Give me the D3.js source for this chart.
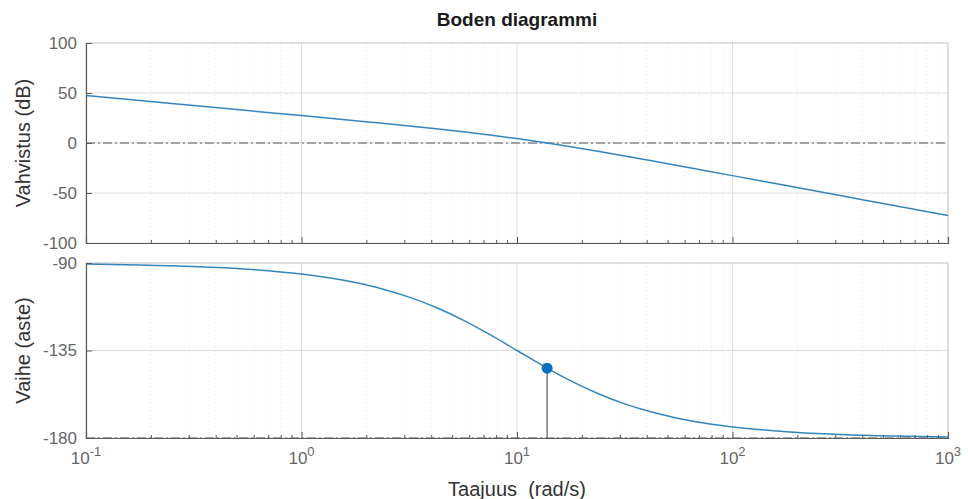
<!DOCTYPE html>
<html>
<head>
<meta charset="utf-8">
<script src="https://cdn.jsdelivr.net/npm/d3@7"></script>
<style>
  html, body { margin: 0; padding: 0; background: #fff; }
  svg { display: block; font-family: "Liberation Sans", Arial, Helvetica, sans-serif; }
</style>
</head>
<body>
<svg id="chart" width="968" height="499"></svg>
<script>
// Frequency response samples (rad/s), gain (dB) and phase (deg)
const freq = [0.1, 0.1778, 0.3162, 0.5623, 1, 1.778, 2.371, 3.162, 4.217, 5.623, 7.499, 10,
              13.34, 17.78, 23.71, 31.62, 42.17, 56.23, 74.99, 100, 177.8, 316.2, 562.3, 1000];
const gainDb = [47.42, 42.42, 37.41, 32.41, 27.38, 22.28, 19.68, 17.01, 14.21, 11.23, 7.98, 4.41,
                0.48, -3.77, -8.29, -13.0, -17.82, -22.71, -27.66, -32.62, -42.59, -52.58, -62.58, -72.58];
const phaseDeg = [-90.57, -91.02, -91.81, -93.22, -95.71, -100.08, -103.34, -107.55, -112.87, -119.35, -126.87, -135,
                  -143.13, -150.65, -157.13, -162.45, -166.66, -169.92, -172.41, -174.29, -176.78, -178.19, -178.98, -179.43];

// Gain crossover point (phase margin marker)
const crossover = { freq: 13.8, phase: -144.07 };

const gainTicks = [-100, -50, 0, 50, 100];
const phaseTicks = [-180, -135, -90];
const decadeTicks = [0.1, 1, 10, 100, 1000];
const decadeLabels = ["-1", "0", "1", "2", "3"];

const titleText = "Boden diagrammi";
const xLabel = "Taajuus  (rad/s)";
const gainLabel = "Vahvistus (dB)";
const phaseLabel = "Vaihe (aste)";

const svg = d3.select("#chart");
const left = 86, right = 948;
const topPanel = { y0: 43, y1: 243 };
const botPanel = { y0: 263, y1: 438 };

const x = d3.scaleLog().domain([0.1, 1000]).range([left, right]);
const yGain = d3.scaleLinear().domain([-100, 100]).range([topPanel.y1, topPanel.y0]);
const yPhase = d3.scaleLinear().domain([-180, -90]).range([botPanel.y1, botPanel.y0]);

const lineColor = "#3585bd";
const axisColor = "#5a5a5a";
const tickTextColor = "#666";
const tickFont = 17;

// minor frequencies 2..9 per decade
const minorFreqs = [];
for (let d = -1; d < 3; d++) {
  for (let m = 2; m <= 9; m++) minorFreqs.push(m * Math.pow(10, d));
}

function drawPanel(panel, yScale, yTicks) {
  const g = svg.append("g");
  // minor vertical grid (dotted)
  g.selectAll(".minor").data(minorFreqs).join("line")
    .attr("x1", d => x(d)).attr("x2", d => x(d))
    .attr("y1", panel.y0).attr("y2", panel.y1)
    .attr("stroke", "#e4e4e4").attr("stroke-width", 1)
    .attr("stroke-dasharray", "1,3");
  // major vertical grid
  g.selectAll(".major").data(decadeTicks).join("line")
    .attr("x1", d => x(d)).attr("x2", d => x(d))
    .attr("y1", panel.y0).attr("y2", panel.y1)
    .attr("stroke", "#dcdcdc").attr("stroke-width", 1);
  // horizontal grid
  g.selectAll(".hgrid").data(yTicks).join("line")
    .attr("x1", left).attr("x2", right)
    .attr("y1", d => yScale(d)).attr("y2", d => yScale(d))
    .attr("stroke", "#dcdcdc").attr("stroke-width", 1);
  // light box (top/right)
  g.append("path")
    .attr("d", `M${left},${panel.y0}H${right}V${panel.y1}`)
    .attr("fill", "none").attr("stroke", "#d0d0d0").attr("stroke-width", 1);
  return g;
}

function drawAxes(panel, yScale, yTicks, showXLabels) {
  const g = svg.append("g");
  // bottom x axis with inward ticks
  const xAxis = d3.axisBottom(x).tickValues(decadeTicks).tickSize(-6).tickFormat("");
  const gx = g.append("g").attr("transform", `translate(0,${panel.y1})`).call(xAxis);
  gx.selectAll("line").attr("stroke", axisColor);
  gx.select(".domain").attr("stroke", axisColor).attr("stroke-width", 1.2);
  const xMinor = d3.axisBottom(x).tickValues(minorFreqs).tickSize(-3).tickFormat("");
  const gxm = g.append("g").attr("transform", `translate(0,${panel.y1})`).call(xMinor);
  gxm.select(".domain").remove();
  gxm.selectAll("line").attr("stroke", axisColor);

  // left y axis with inward ticks, plain hyphen minus signs
  const yAxis = d3.axisLeft(yScale).tickValues(yTicks).tickSize(-6).tickPadding(9)
    .tickFormat(d => String(d));
  const gy = g.append("g").attr("transform", `translate(${left},0)`).call(yAxis);
  gy.select(".domain").attr("stroke", axisColor).attr("stroke-width", 1.2);
  gy.selectAll("line").attr("stroke", axisColor);
  gy.selectAll("text").attr("fill", tickTextColor).attr("font-size", tickFont)
    .attr("font-family", "Liberation Sans, Arial, sans-serif");

  if (showXLabels) {
    const lab = g.selectAll(".xl").data(decadeTicks).join("text")
      .attr("x", d => x(d)).attr("y", panel.y1 + 26)
      .attr("text-anchor", "middle").attr("fill", tickTextColor).attr("font-size", tickFont);
    lab.append("tspan").text("10");
    lab.append("tspan").attr("dy", -8).attr("font-size", 13)
      .text((d, i) => decadeLabels[i]);
  }
}

function refLine(yv) {
  svg.append("line")
    .attr("x1", left).attr("x2", right).attr("y1", yv).attr("y2", yv)
    .attr("stroke", "#8a8a8a").attr("stroke-width", 1.3)
    .attr("stroke-dasharray", "9,3,2,3");
}

// --- Gain panel ---
drawPanel(topPanel, yGain, gainTicks);
refLine(yGain(0));
svg.append("path")
  .datum(d3.zip(freq, gainDb))
  .attr("fill", "none").attr("stroke", lineColor).attr("stroke-width", 1.5)
  .attr("d", d3.line().x(d => x(d[0])).y(d => yGain(d[1])).curve(d3.curveMonotoneX));
drawAxes(topPanel, yGain, gainTicks, false);

// --- Phase panel ---
drawPanel(botPanel, yPhase, phaseTicks);
refLine(yPhase(-180));
svg.append("path")
  .datum(d3.zip(freq, phaseDeg))
  .attr("fill", "none").attr("stroke", lineColor).attr("stroke-width", 1.5)
  .attr("d", d3.line().x(d => x(d[0])).y(d => yPhase(d[1])).curve(d3.curveMonotoneX));
drawAxes(botPanel, yPhase, phaseTicks, true);

// phase margin stem and marker
svg.append("line")
  .attr("x1", x(crossover.freq)).attr("x2", x(crossover.freq))
  .attr("y1", yPhase(crossover.phase)).attr("y2", yPhase(-180))
  .attr("stroke", "#7a7a7a").attr("stroke-width", 1.5);
svg.append("circle")
  .attr("cx", x(crossover.freq)).attr("cy", yPhase(crossover.phase)).attr("r", 5.5)
  .attr("fill", "#0a6fbf");

// --- Titles and labels ---
svg.append("text").attr("x", (left + right) / 2).attr("y", 26)
  .attr("text-anchor", "middle").attr("font-weight", "bold").attr("font-size", 19)
  .attr("fill", "#1a1a1a").text(titleText);
svg.append("text").attr("x", (left + right) / 2).attr("y", 496)
  .attr("text-anchor", "middle").attr("font-size", 20).attr("fill", "#333")
  .attr("xml:space", "preserve").style("white-space", "pre").text(xLabel);
svg.append("text")
  .attr("transform", `translate(30,${(topPanel.y0 + topPanel.y1) / 2}) rotate(-90)`)
  .attr("text-anchor", "middle").attr("font-size", 20).attr("fill", "#333").text(gainLabel);
svg.append("text")
  .attr("transform", `translate(30,${(botPanel.y0 + botPanel.y1) / 2}) rotate(-90)`)
  .attr("text-anchor", "middle").attr("font-size", 20).attr("fill", "#333").text(phaseLabel);
</script>
</body>
</html>
